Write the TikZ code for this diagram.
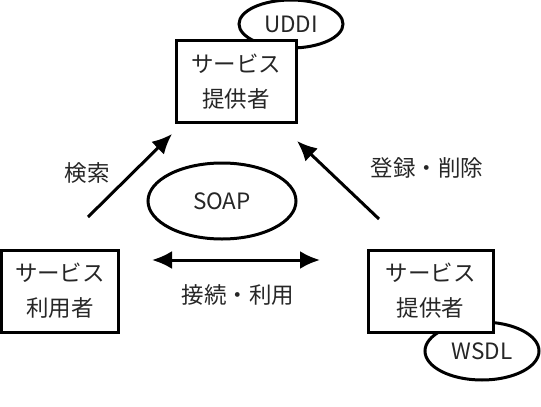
\documentclass[tikz,border=0pt]{standalone}
\usepackage{fontspec}
\setmainfont{Noto Sans CJK JP}
\usetikzlibrary{shapes.geometric, arrows.meta, positioning}
\tikzstyle{actor} = [rectangle, draw, line width=3pt, fill=white, minimum width=120pt, minimum height=82pt, align=center, inner sep=0pt]
\tikzstyle{spec} = [ellipse, draw, line width=3pt, fill=white, inner sep=0pt]
\tikzstyle{note} = [inner sep=0pt]
\tikzstyle{arrow} = [line width=3pt, -{Latex[length=20pt,width=18pt]}]
\tikzstyle{twoway} = [line width=3pt, {Latex[length=20pt,width=18pt]}-{Latex[length=20pt,width=18pt]}]

\begin{document}
\begin{tikzpicture}[x=1pt, y=-1pt, every node/.style={font=\fontsize{22.5pt}{35pt}\selectfont, text=black!85}]
        \useasboundingbox (0,0) rectangle (541,407);
        % Specs (behind the boxes)
        \node (uddi) [spec, minimum width=104pt, minimum height=48pt] at (291,24) {UDDI};
        \node (wsdl) [spec, minimum width=114pt, minimum height=58pt] at (482,351) {WSDL};
        \node (soap) [spec, minimum width=148pt, minimum height=76pt] at (222,201) {SOAP};
        
        % Parties
        \node (reg) [actor] at (236,81.5) {サービス\\提供者};
        \node (user) [actor, minimum width=117pt] at (60,291) {サービス\\利用者};
        \node (prov) [actor, minimum width=125pt] at (430.5,291) {サービス\\提供者};
        
        % Arrow ends
        \coordinate (find0) at (88,217);
        \coordinate (find1) at (172,134);
        \coordinate (pub0) at (379,219);
        \coordinate (pub1) at (297,141);
        \coordinate (bind0) at (152,260);
        \coordinate (bind1) at (320,260);
        
        % Connections
        \draw [arrow] (find0) -- (find1);
        \draw [arrow] (pub0) -- (pub1);
        \draw [twoway] (bind0) -- (bind1);
        
        % Labels
        \node (findlbl) [note] at (87,173) {検索};
        \node (publbl) [note] at (427,168) {登録・削除};
        \node (bindlbl) [note] at (238,295) {接続・利用};
    \end{tikzpicture}
\end{document}
